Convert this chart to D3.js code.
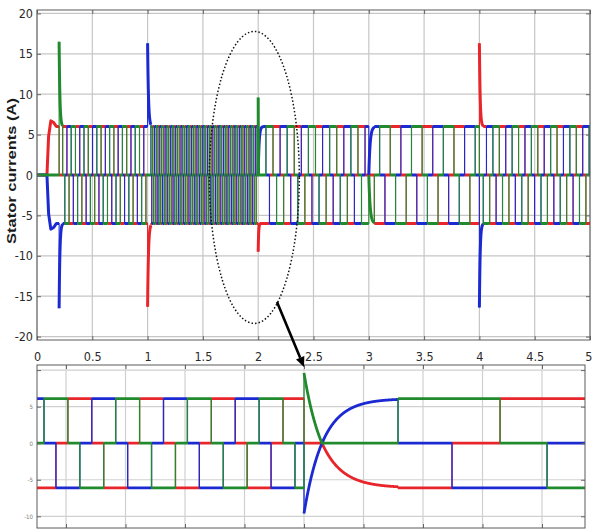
<!DOCTYPE html>
<html>
<head>
<meta charset="utf-8">
<script src="https://cdn.jsdelivr.net/npm/d3@7"></script>
<style>
  html, body { margin: 0; padding: 0; background: #ffffff; }
  svg { display: block; }
</style>
</head>
<body>
<svg id="chart" width="592" height="531"></svg>
<script>
// ---------------- data ----------------
// steady phase-current amplitude (A)
const runLevel = 6.0;
const zoomLevel = 6.1;

// six-step (120° conduction) pattern: phase at +I and at -I in each 60° sector
const sectorHigh = ["b", "g", "g", "r", "r", "b"];
const sectorLow  = ["r", "r", "b", "b", "g", "g"];
const phaseOrder = ["r", "b", "g"];
const phaseColor = { r: "#e8262b", b: "#1c2ad2", g: "#218a2e" };

// full run, 0–5 s
const runTicksX = [0, 0.5, 1, 1.5, 2, 2.5, 3, 3.5, 4, 4.5, 5];
const runTickLabelsX = ["0", "0.5", "1", "1.5", "2", "2.5", "3", "3.5", "4", "4.5", "5"];
const runTicksY = [20, 15, 10, 5, 0, -5, -10, -15, -20];

// start-up before commutation begins
const startT    = [0, 0.09, 0.105, 0.125, 0.15, 0.175, 0.2];
const startRed  = [0, 0, 4.8, 6.7, 6.5, 6.0, 6.0];
const startBlue = [0, 0, -4.8, -6.7, -6.5, -6.0, -6.0];

// commutation segments (s)
const segStart     = [0.2, 1.0, 2.0, 3.0, 4.0];
const segEnd       = [1.0, 2.0, 3.0, 4.0, 5.0];
const segFirstEdge = [0.232, 1.03, 2.07, 3.05, 4.035];
const segInterval  = [0.0193, 0.008, 0.032, 0.048, 0.029];
const segSector    = [2, 0, 0, 5, 3];

// transients at the step changes
const runTrHold   = [0.2, 0.2, 1.0, 1.0, 2.0, 2.0, 2.0, 3.0, 3.0, 4.0, 4.0];
const runTrStart  = [0.2, 0.2, 1.0, 1.0, 2.0, 2.0, 2.0, 3.0, 3.0, 4.0, 4.0];
const runTrPhase  = ["g", "b", "b", "r", "g", "r", "b", "b", "g", "r", "b"];
const runTrFrom   = [16.5, -16.5, 16.3, -16.3, 9.6, -9.5, 0, 0, 0, 16.3, -16.4];
const runTrToward = [6, -6, 6, -6, -6, -6, 6, 6, -6, 6, -6];
const runTrTau    = [0.007, 0.007, 0.008, 0.008, 0.003, 0.004, 0.008, 0.012, 0.012, 0.007, 0.007];

// magnified window around t = 2 s
const zoomTicksX = [1.84, 1.88, 1.92, 1.96, 2.0, 2.04, 2.08, 2.12, 2.16];
const zoomTicksY = [10, 5, 0, -5, -10];
const zoomTickLabelsY = ["", "5", "0", "-5", "-10"];
const zoomSegStart  = [1.8205, 2.0];
const zoomSegEnd    = [2.0, 2.1889];
const zoomSegSector = [0, 0];
const zoomFirstEdge = 1.8252;
const zoomInterval  = 0.008034;
const zoomEdgesAfter = [2.0632, 2.0995, 2.1318, 2.1634];
const zoomTrHold   = [2.0, 2.0, 2.0];
const zoomTrStart  = [2.0, 2.0, 2.0121];
const zoomTrPhase  = ["g", "b", "r"];
const zoomTrFrom   = [9.6, -9.6, 0];
const zoomTrToward = [-6.1, 6.1, -6.1];
const zoomTrTau    = [0.0128, 0.0128, 0.0136];

// ---------------- waveform assembly ----------------
function makeEdges(starts, sectors, edgeLists) {
  const edges = [];
  starts.forEach((t, i) => {
    let s = sectors[i];
    edges.push({ t, s });
    edgeLists[i].forEach(te => { s = (s + 1) % 6; edges.push({ t: te, s }); });
  });
  return edges.sort((a, b) => a.t - b.t);
}

function makeTransients(hold, start, phase, from, toward, tau, edges) {
  const bis = d3.bisector(e => e.t);
  return hold.map((h, i) => {
    const j = bis.right(edges, h);
    return { hold: h, start: start[i], phase: phase[i], from: from[i], toward: toward[i], tau: tau[i],
             end: j < edges.length ? edges[j].t : Infinity };
  });
}

function phaseSeries(phase, cfg) {
  const { t0, t1, dt, edges, trans, level, startup } = cfg;
  const bis = d3.bisector(e => e.t);
  const sectorAt = (t, before) => {
    const i = before ? bis.left(edges, t) : bis.right(edges, t);
    return i > 0 ? edges[i - 1].s : null;
  };
  const base = (t, s) => {
    if (s === null) return startup ? startup(phase, t) : 0;
    return sectorHigh[s] === phase ? level : (sectorLow[s] === phase ? -level : 0);
  };
  const value = (t, before) => {
    const b = base(t, sectorAt(t, before));
    for (const tr of trans) {
      if (tr.phase !== phase) continue;
      const active = before ? (t > tr.hold && t <= tr.end) : (t >= tr.hold && t < tr.end);
      if (!active) continue;
      if (t < tr.start) return tr.from;
      let v = tr.toward + (tr.from - tr.toward) * Math.exp(-(t - tr.start) / tr.tau);
      if ((tr.from - b) * (v - b) < 0) v = b;
      return v;
    }
    return b;
  };
  const pts = [];
  const samples = d3.range(t0, t1, dt).concat([t1]);
  let ei = 0;
  for (const ts of samples) {
    while (ei < edges.length && edges[ei].t <= ts) {
      const te = edges[ei].t;
      if (te > t0) { pts.push({ t: te, v: value(te, true) }); pts.push({ gap: true }); }
      if (te >= t0) pts.push({ t: te, v: value(te, false) });
      ei++;
    }
    const last = pts[pts.length - 1];
    if (last && !last.gap && last.t === ts) continue;
    pts.push({ t: ts, v: value(ts, false) });
  }
  return pts;
}

// ---------------- drawing ----------------
const svg = d3.select("#chart");
const tickFont = '"Liberation Sans Narrow", "Arial Narrow", "DejaVu Sans Condensed", sans-serif';

function drawPanel(opt) {
  const { x, y, ticksX, labelsX, ticksY, labelsY, series, thin, thick, clipId, gridColor, labelSize, labelColor } = opt;
  const [x0, x1] = x.range();
  const [y0, y1] = y.range();
  const g = svg.append("g");

  g.append("clipPath").attr("id", clipId)
    .append("rect").attr("x", x0).attr("y", y1).attr("width", x1 - x0).attr("height", y0 - y1);

  // grid
  g.append("g").selectAll("line").data(ticksX).join("line")
    .attr("x1", d => x(d)).attr("x2", d => x(d)).attr("y1", y1).attr("y2", y0)
    .attr("stroke", gridColor).attr("stroke-width", 1.2);
  g.append("g").selectAll("line").data(ticksY).join("line")
    .attr("x1", x0).attr("x2", x1).attr("y1", d => y(d)).attr("y2", d => y(d))
    .attr("stroke", gridColor).attr("stroke-width", 1.2);

  // phase currents: thick noisy-looking levels, thin commutation edges
  const traces = g.append("g").attr("clip-path", `url(#${clipId})`);
  const lineThick = d3.line().defined(d => !d.gap).x(d => x(d.t)).y(d => y(d.v));
  const lineThin = d3.line().x(d => x(d.t)).y(d => y(d.v));
  phaseOrder.forEach(p => {
    const pts = series[p];
    traces.append("path").attr("d", lineThick(pts)).attr("fill", "none")
      .attr("stroke", phaseColor[p]).attr("stroke-width", thick).attr("stroke-linejoin", "round");
    traces.append("path").attr("d", lineThin(pts.filter(d => !d.gap))).attr("fill", "none")
      .attr("stroke", phaseColor[p]).attr("stroke-width", thin);
  });

  // axes (ticks pointing inward, box on)
  const axL = d3.axisLeft(y).tickValues(ticksY).tickSize(-4).tickPadding(4)
    .tickFormat((d, i) => labelsY[i]);
  const axR = d3.axisRight(y).tickValues(ticksY).tickSize(-4).tickFormat("");
  const axT = d3.axisTop(x).tickValues(ticksX).tickSize(-4).tickFormat("");
  const axB = d3.axisBottom(x).tickValues(ticksX).tickSize(-4).tickPadding(12)
    .tickFormat((d, i) => labelsX ? labelsX[i] : "");
  [[axL, `translate(${x0},0)`], [axR, `translate(${x1},0)`], [axT, `translate(0,${y1})`], [axB, `translate(0,${y0})`]]
    .forEach(([ax, tr]) => {
      const a = g.append("g").attr("transform", tr).call(ax);
      a.select(".domain").remove();
      a.selectAll(".tick line").attr("stroke", "#666");
      a.selectAll(".tick text").attr("font-family", tickFont).attr("font-size", labelSize).attr("fill", labelColor);
    });

  g.append("rect").attr("x", x0).attr("y", y1).attr("width", x1 - x0).attr("height", y0 - y1)
    .attr("fill", "none").attr("stroke", "#5a5a5a").attr("stroke-width", 1);
  return g;
}

// full run
const runX = d3.scaleLinear().domain([0, 5]).range([37, 590]);
const runY = d3.scaleLinear().domain([-20.42, 20.42]).range([340, 10]);
const runEdges = makeEdges(segStart, segSector,
  segStart.map((s, i) => d3.range(segFirstEdge[i], segEnd[i] - 0.004, segInterval[i])));
const runTrans = makeTransients(runTrHold, runTrStart, runTrPhase, runTrFrom, runTrToward, runTrTau, runEdges);
const startInterp = { r: startRed, b: startBlue };
const runStartup = (p, t) => {
  if (!startInterp[p]) return 0;
  const i = Math.max(1, Math.min(startT.length - 1, d3.bisectRight(startT, t)));
  const f = (t - startT[i - 1]) / (startT[i] - startT[i - 1]);
  return startInterp[p][i - 1] + f * (startInterp[p][i] - startInterp[p][i - 1]);
};
const runSeries = {};
phaseOrder.forEach(p => {
  runSeries[p] = phaseSeries(p, { t0: 0, t1: 5, dt: 0.0005, edges: runEdges, trans: runTrans, level: runLevel, startup: runStartup });
});
const runPanel = drawPanel({ x: runX, y: runY, ticksX: runTicksX, labelsX: runTickLabelsX, ticksY: runTicksY,
  labelsY: runTicksY.map(String), series: runSeries, thin: 1.1, thick: 3, clipId: "clipRun",
  gridColor: "#c6c6c6", labelSize: "12.5px", labelColor: "#2a2a2a" });
// last x label sits on the window edge: keep it inside
runPanel.selectAll(".tick text").filter(d => d === 5).attr("text-anchor", "end").attr("dx", "2");

svg.append("text")
  .attr("transform", "translate(16,171) rotate(-90)")
  .attr("text-anchor", "middle")
  .attr("font-family", "Liberation Sans, Arial, sans-serif")
  .attr("font-weight", "bold").attr("font-size", "12.5px").attr("fill", "#1a1a1a")
  .attr("textLength", 146).attr("lengthAdjust", "spacingAndGlyphs")
  .text("Stator currents (A)");

// magnified window
const zoomX = d3.scaleLinear().domain([1.8205, 2.1889]).range([37, 585]);
const zoomY = d3.scaleLinear().domain([-11.6, 10.7]).range([528, 365]);
const zoomEdges = makeEdges(zoomSegStart, zoomSegSector,
  [d3.range(zoomFirstEdge, zoomSegEnd[0] - 0.003, zoomInterval), zoomEdgesAfter]);
const zoomTrans = makeTransients(zoomTrHold, zoomTrStart, zoomTrPhase, zoomTrFrom, zoomTrToward, zoomTrTau, zoomEdges);
const zoomSeries = {};
phaseOrder.forEach(p => {
  zoomSeries[p] = phaseSeries(p, { t0: zoomX.domain()[0], t1: zoomX.domain()[1], dt: 0.00015,
    edges: zoomEdges, trans: zoomTrans, level: zoomLevel, startup: null });
});
drawPanel({ x: zoomX, y: zoomY, ticksX: zoomTicksX, labelsX: null, ticksY: zoomTicksY,
  labelsY: zoomTickLabelsY, series: zoomSeries, thin: 1.3, thick: 2.8, clipId: "clipZoom",
  gridColor: "#d0d0d0", labelSize: "6px", labelColor: "#7a7a7a" });

// dotted ellipse marking the magnified window, and the arrow to it
svg.append("ellipse")
  .attr("cx", runX(1.965)).attr("cy", runY(-0.3)).attr("rx", 45).attr("ry", 146)
  .attr("fill", "none").attr("stroke", "#111").attr("stroke-width", 1.5).attr("stroke-dasharray", "1.5 2.1");

const tip = [zoomX(2.0), 367];
const tail = [277, 302];
const len = Math.hypot(tip[0] - tail[0], tip[1] - tail[1]);
const u = [(tip[0] - tail[0]) / len, (tip[1] - tail[1]) / len];
const nrm = [-u[1], u[0]];
const hb = [tip[0] - 10 * u[0], tip[1] - 10 * u[1]];
svg.append("line").attr("x1", tail[0]).attr("y1", tail[1]).attr("x2", hb[0]).attr("y2", hb[1])
  .attr("stroke", "#000").attr("stroke-width", 2.6);
svg.append("polygon")
  .attr("points", [tip, [hb[0] + 4.5 * nrm[0], hb[1] + 4.5 * nrm[1]], [hb[0] - 4.5 * nrm[0], hb[1] - 4.5 * nrm[1]]]
    .map(p => p.join(",")).join(" "))
  .attr("fill", "#000");
</script>
</body>
</html>
